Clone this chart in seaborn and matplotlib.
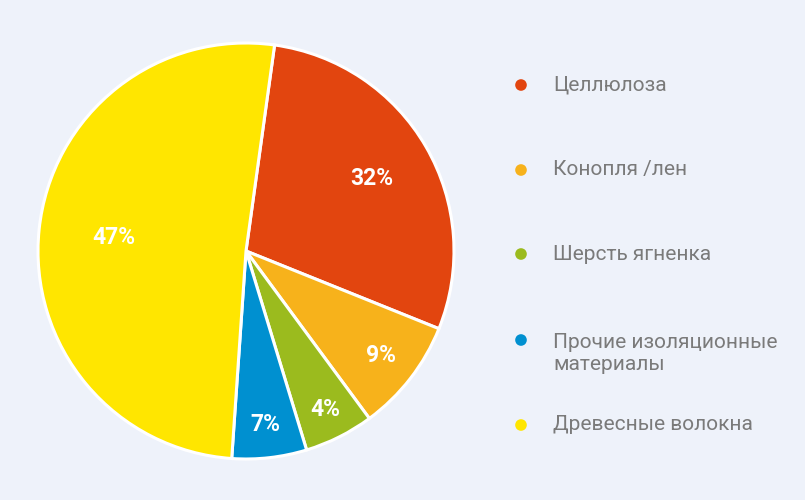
import numpy as np
import matplotlib.pyplot as plt
import seaborn as sns

# slice shares as drawn (angles), and the printed labels
materials = ["Целлюлоза", "Конопля /лен", "Шерсть ягненка",
             "Прочие изоляционные\nматериалы", "Древесные волокна"]
shares = [28.9, 8.8, 5.4, 5.8, 51.1]
pct_labels = ["32%", "9%", "4%", "7%", "47%"]
colors = ["#E2450F", "#F7B21B", "#9BBB1E", "#0090D0", "#FFE600"]

bg = "#EEF2FA"
sns.set_theme(style="white")
plt.rcParams["font.family"] = ["Roboto", "DejaVu Sans"]

W, H = 805, 500
fig = plt.figure(figsize=(W / 100, H / 100), dpi=100, facecolor=bg)

# pie axes: centre (246, 251) px, radius 208 px
cx, cy, R, half = 246, 251, 208, 225
ax = fig.add_axes([(cx - half) / W, (H - cy - half) / H, 2 * half / W, 2 * half / H])
ax.set_facecolor(bg)
wedges, _ = ax.pie(
    shares,
    colors=colors,
    startangle=82.1,
    counterclock=False,
    radius=1,
    wedgeprops=dict(edgecolor="white", linewidth=2.2),
)
lim = half / R
ax.set_xlim(-lim, lim)
ax.set_ylim(-lim, lim)
ax.set_aspect("equal")
ax.axis("off")

label_r = [0.70, 0.82, 0.85, 0.84, 0.64]
for w, txt, r in zip(wedges, pct_labels, label_r):
    mid = np.deg2rad((w.theta1 + w.theta2) / 2)
    ax.text(r * np.cos(mid), r * np.sin(mid), txt, ha="center", va="center",
            color="white", fontsize=16.5, fontweight="bold")

# legend drawn in pixel space
lg = fig.add_axes([0, 0, 1, 1])
lg.set_xlim(0, W)
lg.set_ylim(H, 0)
lg.axis("off")
lg.patch.set_alpha(0)
row_y = [85, 170, 254, 340, 425]
for y, name, c in zip(row_y, materials, colors):
    lg.scatter([521], [y], s=70, color=c, edgecolors="none")
    n_lines = name.count("\n")
    lg.text(553, y + 13 * n_lines, name, ha="left", va="center",
            color="#7A7A7A", fontsize=15, linespacing=1.2)

fig.savefig("out.png", dpi=100, facecolor=bg)
